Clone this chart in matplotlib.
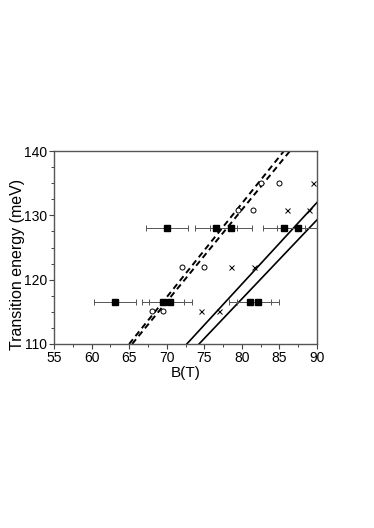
import matplotlib
matplotlib.use("Agg")
import matplotlib.pyplot as plt
from matplotlib.ticker import MultipleLocator

plt.rcParams['font.family'] = ['Liberation Sans', 'DejaVu Sans']

# Filled squares with horizontal error bars
sq_B = [63.1, 69.5, 70.5, 81.1, 82.1, 70.0, 76.5, 78.5, 85.55, 87.45]
sq_E = [116.6, 116.6, 116.6, 116.6, 116.6, 128.1, 128.1, 128.1, 128.1, 128.1]
sq_err = [2.8, 2.8, 2.8, 2.8, 2.8, 2.8, 2.8, 2.8, 2.8, 2.8]

# Open circles
circ_B = [68.0, 69.5, 72.0, 75.0, 79.5, 81.5, 82.5, 85.0]
circ_E = [115.1, 115.1, 121.9, 121.9, 130.8, 130.8, 135.1, 135.1]

# Crosses
cross_B = [74.5, 76.9, 78.5, 81.6, 86.0, 89.0, 89.5]
cross_E = [115.1, 115.1, 121.9, 121.9, 130.8, 130.8, 135.1]

# Lines (B endpoints, E endpoints)
dashA_B = [65.0, 85.6]
dashA_E = [110, 140]
dashB_B = [65.4, 86.4]
dashB_E = [110, 140]
solC_B = [72.67, 90]
solC_E = [110, 132.0]
solD_B = [74.3, 90]
solD_E = [110, 129.3]

fig = plt.figure(figsize=(3.74, 5.28), dpi=100)
ax = fig.add_axes([0.1444, 0.3485, 0.7032, 0.3655])

lw_line = 1.4
ax.plot(dashA_B, dashA_E, color='black', ls=(0, (3.1, 2.1)), lw=lw_line)
ax.plot(dashB_B, dashB_E, color='black', ls=(0, (3.1, 2.1)), lw=lw_line)
ax.plot(solC_B, solC_E, color='black', lw=1.2)
ax.plot(solD_B, solD_E, color='black', lw=1.2)

ax.errorbar(sq_B, sq_E, xerr=sq_err, fmt='s', color='black', ms=4.3,
            ecolor='#555555', elinewidth=0.7, capsize=2.2, capthick=0.7, zorder=3)
ax.plot(circ_B, circ_E, 'o', mfc='white', mec='black', ms=3.6, mew=0.7, ls='none', zorder=4)
ax.plot(cross_B, cross_E, 'x', color='black', ms=3.6, mew=0.7, ls='none', zorder=4)

ax.set_xlim(55, 90)
ax.set_ylim(110, 140)
ax.xaxis.set_major_locator(MultipleLocator(5))
ax.xaxis.set_minor_locator(MultipleLocator(2.5))
ax.yaxis.set_major_locator(MultipleLocator(10))
ax.yaxis.set_minor_locator(MultipleLocator(2.5))
ax.tick_params(which='both', direction='out', top=False, right=False, labelsize=10, colors='black')
ax.tick_params(which='major', length=3.5, width=0.8, color='#444444', pad=1.5)
ax.tick_params(which='minor', length=2, width=0.7, color='#444444')
for s in ax.spines.values():
    s.set_color('#555555')
    s.set_linewidth(1.0)

ax.set_xlabel('B(T)', fontsize=11, labelpad=0.5)
ax.set_ylabel('Transition energy (meV)', fontsize=11.5)
ax.yaxis.set_label_coords(-0.11, 0.41)

fig.savefig('out.png', dpi=100)
